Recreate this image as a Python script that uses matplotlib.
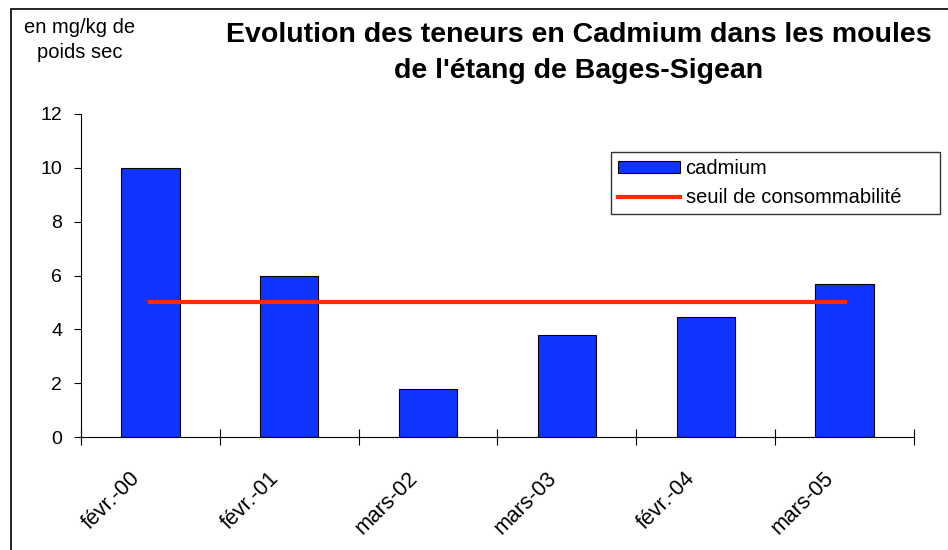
import matplotlib.pyplot as plt
import numpy as np
from matplotlib.patches import Rectangle

plt.rcParams['font.family'] = ['Liberation Sans', 'DejaVu Sans']

# Data
dates = ['févr.-00', 'févr.-01', 'mars-02', 'mars-03', 'févr.-04', 'mars-05']
cadmium = [10.0, 6.0, 1.8, 3.8, 4.45, 5.7]
seuil = [5, 5, 5, 5, 5, 5]

x = np.arange(len(dates))

fig = plt.figure(figsize=(9.48, 5.5), dpi=100)
ax = fig.add_axes([81/948, 1 - 437/550, (914 - 81)/948, (437 - 114)/550])

# outer chart frame (cropped on the right and bottom)
fig.patches.append(Rectangle((11/948, -0.1), 1.2, 1 - 9/550 + 0.1,
                             transform=fig.transFigure, fill=False,
                             edgecolor='black', linewidth=1.2))

bars = ax.bar(x, cadmium, 0.42, color='#1034FF', edgecolor='black', linewidth=0.8,
              label='cadmium', zorder=2)
line, = ax.plot(x, seuil, color='#FF2A00', linewidth=3,
                label='seuil de consommabilité', zorder=3)

ax.set_xlim(-0.5, len(dates) - 0.5)
ax.set_ylim(0, 12)
ax.set_yticks(range(0, 13, 2))
ax.tick_params(axis='y', labelsize=14, length=5, direction='out', pad=8.5)

# ticks between categories, labels at category centres
ax.set_xticks(np.arange(-0.5, len(dates), 1.0))
ax.set_xticklabels([])
ax.tick_params(axis='x', length=12, direction='inout')
for xi, lab in zip(x, dates):
    ax.text(xi - 0.07, -1.55, lab, rotation=45, ha='right', va='baseline',
            rotation_mode='anchor', fontsize=15.5)

for s in ['top', 'right']:
    ax.spines[s].set_visible(False)

fig.text(80/948, 1 - 40/550, 'en mg/kg de\npoids sec', ha='center', va='center',
         fontsize=14.5, linespacing=1.45)
fig.text(579/948, 1 - 53/550,
         "Evolution des teneurs en Cadmium dans les moules\nde l'étang de Bages-Sigean",
         ha='center', va='center', fontsize=20.5, fontweight='bold', linespacing=1.5)

leg = ax.legend([bars, line], ['cadmium', 'seuil de consommabilité'],
                loc='upper left', mode='expand',
                bbox_to_anchor=(611/948, 1 - 152/550, 329/948, 0.0),
                bbox_transform=fig.transFigure, fontsize=14.5, frameon=True,
                fancybox=False, edgecolor='black', borderpad=0.35,
                handlelength=3.1, handleheight=0.55, handletextpad=0.25,
                labelspacing=0.5, borderaxespad=0)
leg.get_frame().set_linewidth(1.0)

plt.savefig('out.png', dpi=100)
